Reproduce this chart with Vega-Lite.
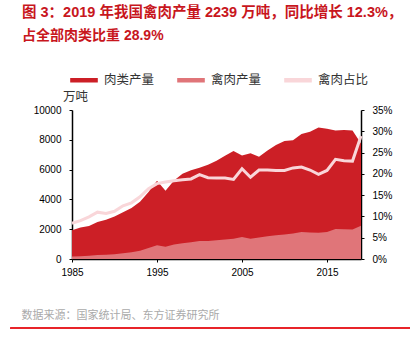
{
  "$schema": "https://vega.github.io/schema/vega-lite/v6.json",
  "autosize": "none",
  "width": 289,
  "height": 149,
  "padding": {"left": 72, "top": 110, "right": 49, "bottom": 93},
  "background": "white",
  "config": {"view": {"stroke": null}},
  "title": {
    "text": "图 3：2019 年我国禽肉产量 2239 万吨，同比增长 12.3%，",
    "subtitle": "占全部肉类比重 28.9%",
    "anchor": "start",
    "frame": "group",
    "dx": -50,
    "offset": 20,
    "fontSize": 14.5,
    "font": "Liberation Sans, Noto Sans CJK SC",
    "fontWeight": "bold",
    "color": "#C8161D",
    "subtitleFontSize": 14,
    "subtitleFont": "Liberation Sans, Noto Sans CJK SC",
    "subtitleFontWeight": "bold",
    "subtitleColor": "#C8161D",
    "subtitlePadding": 9
  },
  "data": {
    "values": [
      {"year": 1985, "meat": 1926.5, "poultry": 162, "share": 0.084},
      {"year": 1986, "meat": 2112.4, "poultry": 190, "share": 0.090},
      {"year": 1987, "meat": 2215.9, "poultry": 219, "share": 0.099},
      {"year": 1988, "meat": 2479.5, "poultry": 273, "share": 0.110},
      {"year": 1989, "meat": 2628.6, "poultry": 281, "share": 0.107},
      {"year": 1990, "meat": 2857.0, "poultry": 320, "share": 0.112},
      {"year": 1991, "meat": 3144.4, "poultry": 393, "share": 0.125},
      {"year": 1992, "meat": 3430.7, "poultry": 453, "share": 0.132},
      {"year": 1993, "meat": 3841.5, "poultry": 561, "share": 0.146},
      {"year": 1994, "meat": 4499.3, "poultry": 742, "share": 0.165},
      {"year": 1995, "meat": 5260.1, "poultry": 931, "share": 0.177},
      {"year": 1996, "meat": 4584.0, "poultry": 830, "share": 0.181},
      {"year": 1997, "meat": 5268.8, "poultry": 969, "share": 0.184},
      {"year": 1998, "meat": 5723.8, "poultry": 1065, "share": 0.186},
      {"year": 1999, "meat": 5949.0, "poultry": 1118, "share": 0.188},
      {"year": 2000, "meat": 6125.4, "poultry": 1213, "share": 0.198},
      {"year": 2001, "meat": 6333.9, "poultry": 1210, "share": 0.191},
      {"year": 2002, "meat": 6586.5, "poultry": 1251, "share": 0.190},
      {"year": 2003, "meat": 6932.9, "poultry": 1317, "share": 0.190},
      {"year": 2004, "meat": 7244.8, "poultry": 1355, "share": 0.187},
      {"year": 2005, "meat": 6938.9, "poultry": 1471, "share": 0.212},
      {"year": 2006, "meat": 7089.0, "poultry": 1361, "share": 0.192},
      {"year": 2007, "meat": 6865.7, "poultry": 1435, "share": 0.209},
      {"year": 2008, "meat": 7278.7, "poultry": 1521, "share": 0.209},
      {"year": 2009, "meat": 7649.7, "poultry": 1591, "share": 0.208},
      {"year": 2010, "meat": 7925.8, "poultry": 1649, "share": 0.208},
      {"year": 2011, "meat": 7965.1, "poultry": 1705, "share": 0.214},
      {"year": 2012, "meat": 8387.2, "poultry": 1812, "share": 0.216},
      {"year": 2013, "meat": 8535.0, "poultry": 1784, "share": 0.209},
      {"year": 2014, "meat": 8817.9, "poultry": 1755, "share": 0.199},
      {"year": 2015, "meat": 8749.5, "poultry": 1820, "share": 0.208},
      {"year": 2016, "meat": 8628.3, "poultry": 2019, "share": 0.234},
      {"year": 2017, "meat": 8654.4, "poultry": 1999, "share": 0.231},
      {"year": 2018, "meat": 8624.6, "poultry": 1984, "share": 0.230},
      {"year": 2019, "meat": 7747.0, "poultry": 2239, "share": 0.289}
    ]
  },
  "encoding": {
    "x": {
      "field": "year",
      "type": "quantitative",
      "scale": {"domain": [1985, 2019], "nice": false, "zero": false},
      "axis": {
        "values": [1985, 1995, 2005, 2015],
        "format": "d",
        "grid": false,
        "labelOverlap": false,
        "domainColor": "#000",
        "domainWidth": 1.5,
        "tickColor": "#000",
        "tickSize": 3,
        "labelPadding": 5,
        "labelFont": "Liberation Sans",
        "labelFontSize": 10,
        "labelColor": "#000",
        "labelFlush": false,
        "title": "数据来源：国家统计局、东方证券研究所",
        "titleFont": "Noto Sans CJK SC",
        "titleFontSize": 11,
        "titleFontWeight": "normal",
        "titleColor": "#AAAAAA",
        "titleAnchor": "start",
        "titleAlign": "left",
        "titleBaseline": "middle",
        "titleX": -51,
        "titleY": 56
      }
    }
  },
  "layer": [
    {
      "layer": [
        {
          "mark": {"type": "area", "opacity": 1},
          "encoding": {
            "y": {
              "field": "meat",
              "type": "quantitative",
              "stack": null,
              "scale": {"domain": [0, 10000], "nice": false},
              "axis": {
                "values": [0, 2000, 4000, 6000, 8000, 10000],
                "format": "d",
                "labelOverlap": false,
                "grid": false,
                "domainColor": "#000",
                "domainWidth": 1.5,
                "tickColor": "#000",
                "tickSize": 3,
                "labelPadding": 8,
                "labelFont": "Liberation Sans",
                "labelFontSize": 10,
                "labelColor": "#000",
                "labelFlush": false,
                "title": "万吨",
                "titleFont": "Noto Sans CJK SC",
                "titleFontSize": 12.5,
                "titleFontWeight": "normal",
                "titleColor": "#333333",
                "titleAngle": 0,
                "titleAlign": "center",
                "titleBaseline": "middle",
                "titleX": 3,
                "titleY": -14
              }
            },
            "color": {
              "datum": "肉类产量",
              "scale": {
                "domain": ["肉类产量", "禽肉产量", "禽肉占比"],
                "range": ["#CC1F26", "#E07579", "#F9D6D9"]
              },
              "legend": {
                "orient": "none",
                "legendX": -4,
                "legendY": -46,
                "direction": "horizontal",
                "title": null,
                "symbolType": "M-0.87,-0.1H0.87V0.1H-0.87Z",
                "symbolSize": 900,
                "labelFont": "Noto Sans CJK SC",
                "labelFontSize": 12.5,
                "labelColor": "#333333",
                "labelOffset": 4,
                "columnPadding": 19,
                "encode": {
                  "symbols": {
                    "update": {
                      "fill": {"scale": "color", "field": "value"},
                      "stroke": {"scale": "color", "field": "value"},
                      "strokeWidth": {"signal": "datum.value === '禽肉占比' ? 0 : 4"},
                      "fillOpacity": {"value": 1},
                      "strokeOpacity": {"value": 1},
                      "opacity": {"value": 1}
                    }
                  }
                }
              }
            }
          }
        },
        {
          "mark": {"type": "area", "opacity": 1},
          "encoding": {
            "y": {
              "field": "poultry",
              "type": "quantitative",
              "stack": null,
              "axis": {
                "values": [0, 2000, 4000, 6000, 8000, 10000],
                "format": "d",
                "labelOverlap": false,
                "grid": false,
                "domainColor": "#000",
                "domainWidth": 1.5,
                "tickColor": "#000",
                "tickSize": 3,
                "labelPadding": 8,
                "labelFont": "Liberation Sans",
                "labelFontSize": 10,
                "labelColor": "#000",
                "labelFlush": false,
                "title": "万吨",
                "titleFont": "Noto Sans CJK SC",
                "titleFontSize": 12.5,
                "titleFontWeight": "normal",
                "titleColor": "#333333",
                "titleAngle": 0,
                "titleAlign": "center",
                "titleBaseline": "middle",
                "titleX": 3,
                "titleY": -14
              }
            },
            "color": {"datum": "禽肉产量"}
          }
        },
        {
          "mark": {"type": "rule", "color": "#E8242B", "strokeWidth": 1.2},
          "encoding": {
            "x": {"datum": 1977.8},
            "x2": {"datum": 2024.8},
            "y": {
              "datum": -4660,
              "axis": {
                "values": [0, 2000, 4000, 6000, 8000, 10000],
                "format": "d",
                "labelOverlap": false,
                "grid": false,
                "domainColor": "#000",
                "domainWidth": 1.5,
                "tickColor": "#000",
                "tickSize": 3,
                "labelPadding": 8,
                "labelFont": "Liberation Sans",
                "labelFontSize": 10,
                "labelColor": "#000",
                "labelFlush": false,
                "title": "万吨",
                "titleFont": "Noto Sans CJK SC",
                "titleFontSize": 12.5,
                "titleFontWeight": "normal",
                "titleColor": "#333333",
                "titleAngle": 0,
                "titleAlign": "center",
                "titleBaseline": "middle",
                "titleX": 3,
                "titleY": -14
              }
            }
          }
        }
      ]
    },
    {
      "mark": {"type": "line", "strokeWidth": 3},
      "encoding": {
        "y": {
          "field": "share",
          "type": "quantitative",
          "scale": {"domain": [0, 0.35], "nice": false},
          "axis": {
            "orient": "right",
            "values": [0, 0.05, 0.1, 0.15, 0.2, 0.25, 0.3, 0.35],
            "format": ".0%",
            "labelOverlap": false,
            "grid": false,
            "domainColor": "#000",
            "domainWidth": 1.5,
            "tickColor": "#000",
            "tickSize": 3,
            "labelPadding": 8,
            "labelFont": "Liberation Sans",
            "labelFontSize": 10,
            "labelColor": "#000",
            "labelFlush": false,
            "title": null
          }
        },
        "color": {"datum": "禽肉占比"}
      }
    }
  ],
  "resolve": {"scale": {"y": "independent"}}
}
